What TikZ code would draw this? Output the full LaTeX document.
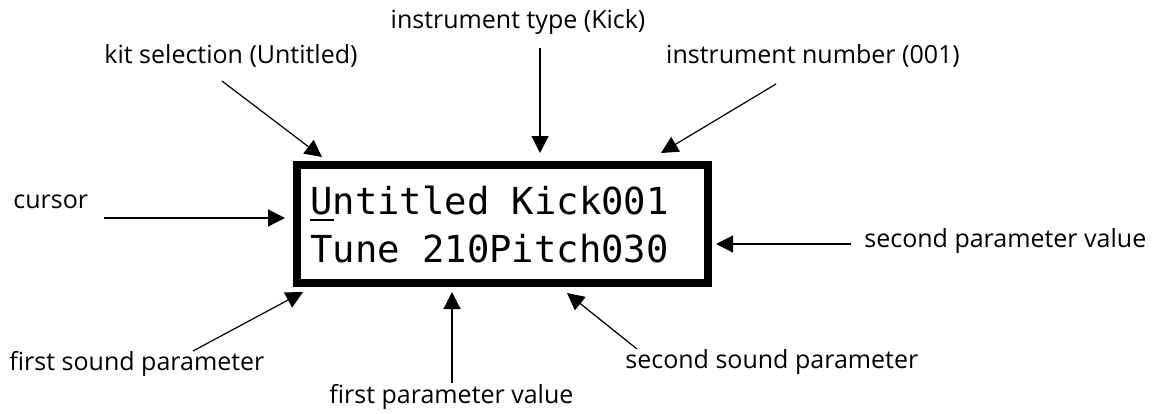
\documentclass[tikz,border=0pt]{standalone}
\usepackage{fontspec}
\setmainfont{Open Sans}
\newfontfamily\lcdfont{DejaVu Sans Mono}
\usetikzlibrary{arrows.meta}
\begin{document}
\begin{tikzpicture}[x=0.5pt,y=-0.5pt,
  lbl/.style={inner sep=0pt,font=\fontsize{12.5pt}{14pt}\selectfont},
  lcdtxt/.style={inner sep=0pt,anchor=base west,font=\lcdfont\fontsize{18.6pt}{20pt}\selectfont},
  pointer/.style={line width=0.6pt,-{Triangle[length=8.5pt,width=8.5pt]}}]
\useasboundingbox (0,0) rectangle (1159,413);
% display box
\node[draw,line width=4pt,minimum width=205.5pt,minimum height=59pt,inner sep=0pt] (lcd) at (502.5,224) {};
\node[lcdtxt] (row1) at (310,214) {Untitled Kick001};
\node[lcdtxt] (row2) at (310,262) {Tune 210Pitch030};
\coordinate (ul1) at (310,220);
\coordinate (ul2) at (334,220);
\draw[line width=1.4pt] (ul1) -- (ul2);
% labels
\node[lbl,anchor=base] (kit) at (231,63) {kit selection (Untitled)};
\node[lbl,anchor=base] (itype) at (518,28) {instrument type (Kick)};
\node[lbl,anchor=base] (inum) at (813,63) {instrument number (001)};
\node[lbl,anchor=base west] (cur) at (13,208) {cursor};
\node[lbl,anchor=base west] (spv) at (864,247) {second parameter value};
\node[lbl,anchor=base west] (fsp) at (9,370) {first sound parameter};
\node[lbl,anchor=base west] (fpv) at (329,403) {first parameter value};
\node[lbl,anchor=base west] (ssp) at (625,368) {second sound parameter};
% arrow ends
\coordinate (kitA) at (222,81);   \coordinate (kitB) at (322,157);
\coordinate (itypeA) at (540,48); \coordinate (itypeB) at (540,153);
\coordinate (inumA) at (776,84);  \coordinate (inumB) at (661,153);
\coordinate (curA) at (104,218);  \coordinate (curB) at (285,218);
\coordinate (spvA) at (851,244);  \coordinate (spvB) at (716,244);
\coordinate (fspA) at (193,351);  \coordinate (fspB) at (303,292);
\coordinate (fpvA) at (452,383);  \coordinate (fpvB) at (452,292);
\coordinate (sspA) at (637,349);  \coordinate (sspB) at (567,293);
\draw[pointer] (kitA) -- (kitB);
\draw[pointer] (itypeA) -- (itypeB);
\draw[pointer] (inumA) -- (inumB);
\draw[pointer] (curA) -- (curB);
\draw[pointer] (spvA) -- (spvB);
\draw[pointer] (fspA) -- (fspB);
\draw[pointer] (fpvA) -- (fpvB);
\draw[pointer] (sspA) -- (sspB);
\end{tikzpicture}
\end{document}
